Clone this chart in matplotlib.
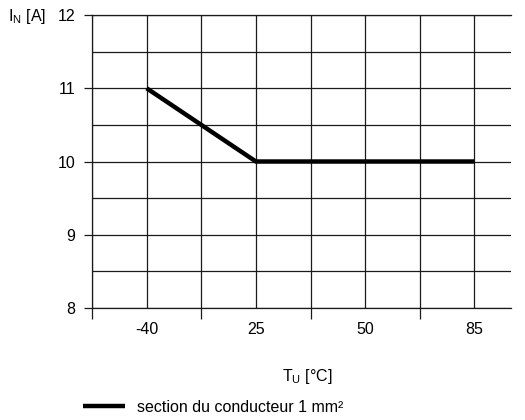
import matplotlib
matplotlib.use("Agg")
import matplotlib.pyplot as plt

plt.rcParams['font.family'] = ['Liberation Sans', 'DejaVu Sans']
plt.rcParams['mathtext.fontset'] = 'custom'
plt.rcParams['mathtext.rm'] = 'Liberation Sans'

# datos: temperatura ambiente (categorias) vs corriente nominal
temp_labels = ["-40", "25", "50", "85"]
corriente = [11, 10, 10]
temp_puntos = ["-40", "25", "85"]

pos_cat = {lab: 1 + 2 * i for i, lab in enumerate(temp_labels)}
xs = [pos_cat[t] for t in temp_puntos]

fs = 11.5

fig = plt.figure(figsize=(5.25, 4.2), dpi=100)
ax = fig.add_axes([92 / 525, 1 - 308 / 420, (511 - 92) / 525, (308 - 15) / 420])

ax.plot(xs, corriente, color="black", lw=3.2, solid_capstyle="butt",
        solid_joinstyle="miter", label="section du conducteur 1 mm²", zorder=3)

ax.set_xlim(0, 7.67)
ax.set_ylim(8, 12)

ax.set_xticks([pos_cat[t] for t in temp_labels])
ax.set_xticklabels(temp_labels)
ax.set_xticks([0, 2, 4, 6], minor=True)
ax.set_yticks([8, 9, 10, 11, 12])
ax.set_yticks([8.5, 9.5, 10.5, 11.5], minor=True)

ax.tick_params(axis="x", which="major", length=0, pad=10, labelsize=fs)
ax.tick_params(axis="x", which="minor", length=8, width=0.9, color="#1a1a1a")
ax.tick_params(axis="y", which="major", length=6, width=0.9, pad=6,
               color="#1a1a1a", labelsize=fs)
ax.tick_params(axis="y", which="minor", length=0)

ax.grid(True, which="both", color="#1a1a1a", lw=0.9)
ax.set_axisbelow(True)
for s in ["left", "bottom", "top"]:
    ax.spines[s].set_color("#1a1a1a")
    ax.spines[s].set_linewidth(0.9)
ax.spines["right"].set_visible(False)

fig.text(8 / 525, 1 - 17 / 420, r"I$_\mathregular{N}$ [A]", fontsize=fs, va="center")
fig.text(307 / 525, 1 - 376 / 420, r"T$_\mathregular{U}$ [°C]", fontsize=fs,
         va="center", ha="center")

fig.legend(loc="center left", bbox_to_anchor=(83 / 525, 1 - 407 / 420),
           frameon=False, fontsize=fs, handlelength=2.6, handletextpad=0.75,
           borderpad=0, borderaxespad=0)

fig.savefig("out.png", dpi=100)
